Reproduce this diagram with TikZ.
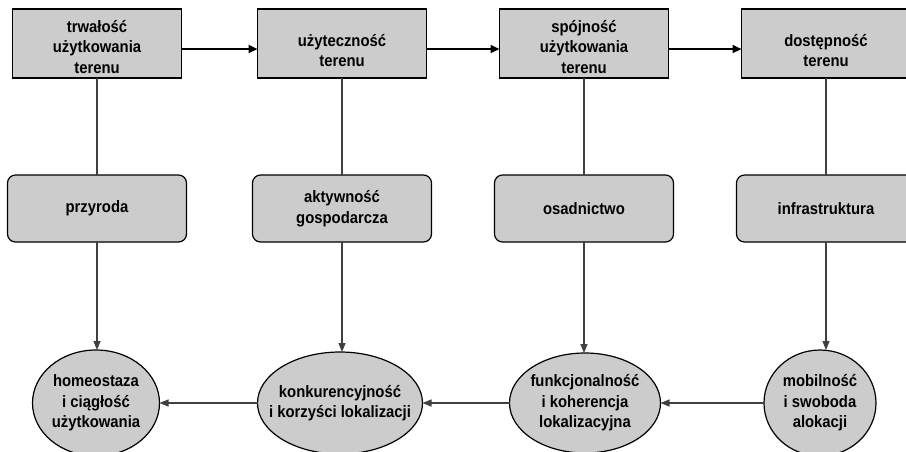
\documentclass[tikz,border=0pt]{standalone}
\usepackage{fontspec}
\setmainfont[FakeStretch=0.9]{Liberation Sans}
\usetikzlibrary{arrows.meta,shapes.geometric}
\definecolor{cCCCCCC}{RGB}{204,204,204}
\definecolor{c404040}{RGB}{64,64,64}

\begin{document}
\begin{tikzpicture}[y=1pt, x=1pt, yscale=-1, inner sep=0pt, outer sep=0pt,
  font=\fontsize{16.5}{20.5}\selectfont\bfseries,
  rectbox/.style={draw=black, fill=cCCCCCC, line width=1.2pt,
    minimum width=169pt, minimum height=69pt, align=center},
  rrectbox/.style={draw=black, fill=cCCCCCC, line width=1.2pt,
    rounded corners=8pt, minimum width=179pt, minimum height=67pt, align=center},
  ellipsebox/.style={ellipse, draw=black, fill=cCCCCCC, line width=1.2pt},
  mainarrow/.style={draw=black, line width=2.2pt,
    -{Triangle[length=9pt,width=8pt]}},
  thinline/.style={draw=c404040, line width=1.2pt},
  thinarrow/.style={thinline, -{Triangle[length=9pt,width=7pt]}}]
\useasboundingbox (0,0) rectangle (906,451);
\clip (0,0) rectangle (906,451);
\begin{scope}
  \node[rectbox] (rect1) at (97,43.5)
    {\rule{0pt}{19pt}trwałość\\użytkowania\\terenu};
  \node[rectbox] (rect2) at (342,43.5) {\rule{0pt}{26pt}użyteczność\\terenu};
  \node[rectbox] (rect3) at (584,43.5)
    {\rule{0pt}{19pt}spójność\\użytkowania\\terenu};
  \node[rectbox] (rect4) at (826,43.5) {\rule{0pt}{26pt}dostępność\\terenu};
  \node[rrectbox] (rrect1) at (97,208.5) {przyroda};
  \node[rrectbox] (rrect2) at (342,208.5) {aktywność\\gospodarcza};
  \node[rrectbox] (rrect3) at (584,208.5) {osadnictwo};
  \node[rrectbox] (rrect4) at (826,208.5) {infrastruktura};
  \node[ellipsebox, minimum width=127pt, minimum height=106pt,
    label={[align=center]center:homeostaza\\i ciągłość\\użytkowania}]
    (ellipse1) at (96,403) {};
  \node[ellipsebox, minimum width=165pt, minimum height=102pt,
    label={[align=center]center:konkurencyjność\\i korzyści lokalizacji}]
    (ellipse2) at (340,403) {};
  \node[ellipsebox, minimum width=151pt, minimum height=100pt,
    label={[align=center]center:funkcjonalność\\i koherencja\\lokalizacyjna}]
    (ellipse3) at (585,403) {};
  \node[ellipsebox, minimum width=112pt, minimum height=106pt,
    label={[align=center]center:mobilność\\i swoboda\\alokacji}]
    (ellipse4) at (820,403) {};
  \path[mainarrow] ([yshift=5.5pt]rect1.east) -- ([yshift=5.5pt]rect2.west);
  \path[mainarrow] ([yshift=5.5pt]rect2.east) -- ([yshift=5.5pt]rect3.west);
  \path[mainarrow] ([yshift=5.5pt]rect3.east) -- ([yshift=5.5pt]rect4.west);
  \path[thinline] (rect1.south) -- (rrect1.north);
  \path[thinline] (rect2.south) -- (rrect2.north);
  \path[thinline] (rect3.south) -- (rrect3.north);
  \path[thinline] (rect4.south) -- (rrect4.north);
  \path[thinarrow] (rrect1.south) -- (rrect1.south |- ellipse1.north);
  \path[thinarrow] (rrect2.south) -- (rrect2.south |- ellipse2.north);
  \path[thinarrow] (rrect3.south) -- (rrect3.south |- ellipse3.north);
  \path[thinarrow] (rrect4.south) -- (rrect4.south |- ellipse4.north);
  \path[thinarrow] (ellipse2.west) -- (ellipse1.east);
  \path[thinarrow] (ellipse3.west) -- (ellipse2.east);
  \path[thinarrow] (ellipse4.west) -- (ellipse3.east);
\end{scope}
\end{tikzpicture}
\end{document}
